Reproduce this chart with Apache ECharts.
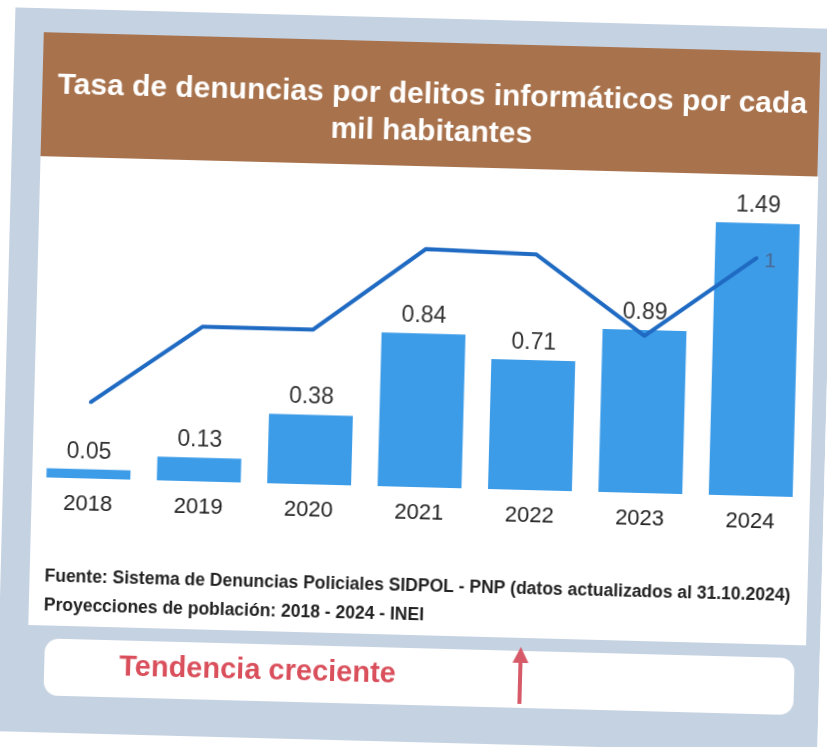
<!DOCTYPE html>
<html style="height: 100%">
<head>
<meta charset="utf-8">
<script src="https://cdn.jsdelivr.net/npm/echarts@6/dist/echarts.min.js"></script>
</head>
<body style="height: 100%; margin: 0; background: #ffffff; overflow: hidden">
<!-- la imagen original esta escaneada con una ligera inclinacion -->
<div id="container" style="width: 827px; height: 747px; transform: rotate(1.5deg); transform-origin: 50% 50%"></div>
<script type="text/javascript">
var years = ['2018', '2019', '2020', '2021', '2022', '2023', '2024'];
var tasa = [0.05, 0.13, 0.38, 0.84, 0.71, 0.89, 1.49];
// linea de tendencia (eje secundario, solo se rotula el ultimo punto)
var tendencia = [0.32, 0.65, 0.65, 1.0, 0.99, 0.66, 1];

var titulo = 'Tasa de denuncias por delitos informáticos por cada\nmil habitantes';
var fuente1 = 'Fuente: Sistema de Denuncias Policiales SIDPOL - PNP (datos actualizados al 31.10.2024)';
var fuente2 = 'Proyecciones de población: 2018 - 2024 - INEI';
var nota = 'Tendencia creciente';

var myChart = echarts.init(document.getElementById('container'));

var lineData = tendencia.map(function (v, i) {
    if (i === tendencia.length - 1) {
        return {value: v, label: {show: true}};
    }
    return v;
});

var option = {
    animation: false,
    textStyle: {fontFamily: 'Liberation Sans, Arial, sans-serif'},
    graphic: [
        // fondo gris azulado
        {type: 'rect', z: -10, shape: {x: 6, y: 18, width: 830, height: 724}, style: {fill: '#c5d2e1'}},
        // franja del titulo
        {type: 'rect', z: -9, shape: {x: 35, y: 42, width: 777, height: 124}, style: {fill: '#a8724c'}},
        // panel blanco
        {type: 'rect', z: -9, shape: {x: 35, y: 166, width: 778, height: 469}, style: {fill: '#ffffff'}},
        {type: 'text', left: 50, top: 577, style: {text: fuente1, fill: '#222', font: 'bold 17.5px Liberation Sans'}},
        {type: 'text', left: 50, top: 606, style: {text: fuente2, fill: '#222', font: 'bold 17.5px Liberation Sans'}},
        // recuadro inferior
        {type: 'rect', z: -8, shape: {x: 52, y: 648, width: 750, height: 57, r: 14}, style: {fill: '#ffffff'}},
        {type: 'text', left: 127, top: 660, style: {text: nota, fill: '#d9505c', font: 'bold 29px Liberation Sans'}},
        {type: 'line', shape: {x1: 528, y1: 701, x2: 528, y2: 658}, style: {stroke: '#d65a68', lineWidth: 4}},
        {type: 'polygon', shape: {points: [[520, 660], [536, 660], [528, 644]]}, style: {fill: '#d65a68'}}
    ],
    title: {
        text: titulo,
        left: 420,
        top: 71,
        textAlign: 'center',
        textStyle: {color: '#ffffff', fontSize: 30, fontWeight: 'bold', lineHeight: 37}
    },
    grid: {left: 36, right: 18, top: 194, bottom: 260},
    xAxis: {
        type: 'category',
        data: years,
        axisLine: {show: false},
        axisTick: {show: false},
        axisLabel: {color: '#222', fontSize: 22, margin: 15}
    },
    yAxis: [
        {type: 'value', min: 0, max: 1.6, show: false},
        {type: 'value', min: 0, max: 1.23, show: false}
    ],
    series: [
        {
            type: 'bar',
            data: tasa,
            barWidth: '76%',
            itemStyle: {color: '#3d9ce8'},
            label: {show: true, position: 'top', distance: 6, color: '#333', fontSize: 23}
        },
        {
            type: 'line',
            yAxisIndex: 1,
            data: lineData,
            symbol: 'circle',
            symbolSize: 3,
            itemStyle: {color: '#1f6ac2'},
            lineStyle: {color: '#1f6ac2', width: 4},
            label: {show: false, position: 'right', distance: 6, offset: [0, 3], color: '#4a6a95', fontSize: 21}
        }
    ]
};

myChart.setOption(option);
</script>
</body>
</html>
